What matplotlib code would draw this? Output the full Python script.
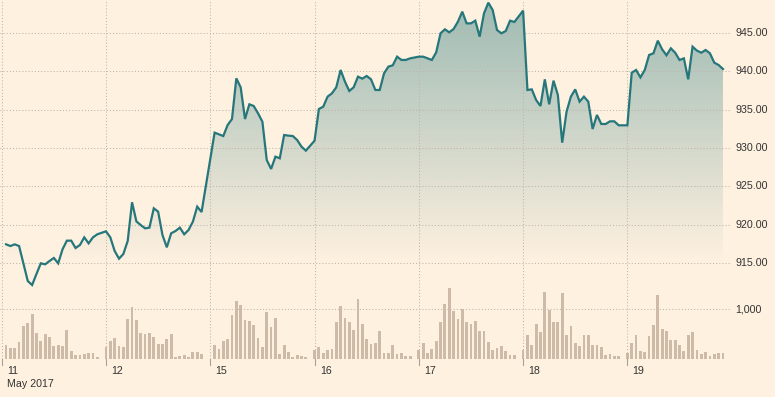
import numpy as np
import matplotlib
matplotlib.use("Agg")
import matplotlib.pyplot as plt
import matplotlib.transforms as mtransforms

plt.rcParams['font.family'] = ['Liberation Sans', 'DejaVu Sans']

# --- data: one list per trading day (15-min bars) ---
day_labels = ['11', '12', '15', '16', '17', '18', '19']
first_slot = [1, 0, 1, 0, 0, 0, 0]   # first bar of the session inside the day slot

prices = [
    [917.41, 917.19, 917.41, 917.19, 914.93, 912.62, 912.10, 913.54, 914.93, 914.80, 915.23,
     915.63, 914.93, 916.76, 917.89, 917.89, 916.93, 917.32, 918.32, 917.54, 918.32, 918.72],
    [919.11, 918.32, 916.54, 915.54, 916.15, 917.85, 922.90, 920.40, 919.93, 919.50, 919.59,
     922.11, 921.68, 918.63, 917.02, 918.85, 919.15, 919.59, 918.72, 919.28, 920.37, 922.33, 921.63],
    [931.99, 931.77, 931.55, 932.99, 933.77, 939.08, 937.91, 933.77, 935.69, 935.47, 934.51,
     933.42, 928.42, 927.25, 928.86, 928.64, 931.68, 931.60, 931.55, 931.03, 930.16, 929.64],
    [930.94, 935.08, 935.38, 936.69, 937.12, 937.91, 940.17, 938.65, 937.43, 937.91, 939.30,
     939.04, 939.39, 938.95, 937.56, 937.56, 939.74, 940.61, 940.78, 941.91, 941.48, 941.48, 941.69],
    [941.91, 941.91, 941.69, 941.48, 942.48, 944.96, 945.48, 945.09, 945.52, 946.48, 947.79,
     946.26, 946.26, 946.61, 944.52, 947.57, 948.96, 948.00, 945.39, 944.96, 945.26, 946.61, 946.44],
    [947.92, 937.56, 937.64, 936.25, 935.47, 938.95, 935.69, 938.78, 936.91, 930.68, 934.73,
     936.69, 937.64, 936.04, 936.69, 936.04, 932.47, 934.30, 933.12, 933.12, 933.47, 933.47, 932.95],
    [932.95, 939.82, 940.17, 939.21, 940.17, 942.13, 942.35, 944.00, 942.87, 942.09, 943.00,
     942.43, 941.48, 941.69, 938.95, 943.22, 942.70, 942.43, 942.78, 942.35, 941.13, 940.82, 940.30],
]

volumes = [
    [280, 220, 220, 340, 660, 720, 900, 520, 360, 500, 440, 260, 280, 260, 580, 160, 80, 80,
     100, 120, 120, 40],
    [240, 360, 420, 260, 240, 800, 1040, 780, 520, 500, 520, 440, 300, 300, 410, 500, 40, 60,
     80, 40, 140, 140, 100],
    [280, 200, 360, 400, 880, 1160, 1080, 780, 760, 680, 420, 240, 940, 640, 820, 100, 280, 140,
     40, 80, 60, 40],
    [180, 240, 120, 180, 200, 740, 1060, 820, 740, 580, 1200, 700, 400, 300, 320, 560, 120, 120,
     280, 100, 120, 60, 60],
    [180, 330, 120, 200, 360, 740, 1100, 1420, 960, 800, 1000, 740, 700, 760, 560, 560, 340, 180,
     220, 260, 160, 80, 80],
    [180, 480, 280, 700, 540, 1340, 980, 740, 740, 1320, 480, 660, 320, 260, 480, 480, 280, 280,
     240, 80, 100, 60, 60],
    [120, 320, 480, 160, 140, 460, 680, 1280, 600, 560, 380, 380, 280, 160, 480, 540, 180, 100,
     140, 60, 100, 120, 120],
]

price_ticks = [915, 920, 925, 930, 935, 940, 945]
vol_ticks = [1000]

SLOTS = 24
BG = '#fff1e0'
LINE = '#25777b'
BAR = '#cdbaa7'
GRID = '#bfb4a8'
TXT = '#333333'

# build x positions
x, p, v = [], [], []
for d, (pl, vl) in enumerate(zip(prices, volumes)):
    for k in range(len(pl)):
        x.append(d * SLOTS + first_slot[d] + k)
        p.append(pl[k])
        v.append(vl[k])
x = np.array(x, float)
p = np.array(p)
v = np.array(v)

W, H = 775, 397
fig = plt.figure(figsize=(W / 100, H / 100), dpi=100, facecolor=BG)
plot_right = 730
plot_bottom = 359
ax = fig.add_axes([0, (H - plot_bottom) / H, plot_right / W, plot_bottom / H])
ax.set_facecolor(BG)
axv = ax.twinx()

px_per_slot = 4.345
x0_px = 1.7
ax.set_xlim(-x0_px / px_per_slot, (plot_right - x0_px) / px_per_slot)
ppx = 7.66  # pixels per price unit
ax.set_ylim(945 - (plot_bottom - 33) / ppx, 945 + 33 / ppx)
axv.set_ylim(0, plot_bottom * 20)

for a in (ax, axv):
    for s in a.spines.values():
        s.set_visible(False)
    a.set_yticks([])
    a.tick_params(left=False, right=False, labelleft=False, labelright=False)
ax.set_xticks([])

# gradient fill under the price line
fill = ax.fill_between(x, p, 900, color='none', lw=0)
ylo, yhi = ax.get_ylim()
n = 300
alpha = np.clip(np.linspace(0.45, -0.05, n), 0, 1) ** 1.0
rgba = np.zeros((n, 1, 4))
rgba[..., 0] = 0x25 / 255
rgba[..., 1] = 0x77 / 255
rgba[..., 2] = 0x7b / 255
rgba[:, 0, 3] = alpha
# fade ends around pixel y ~ 295
fade_bottom = 945 - (295 - 33) / ppx
img = ax.imshow(rgba, aspect='auto', extent=[x.min(), x.max(), fade_bottom, yhi],
                origin='upper', zorder=1, interpolation='bilinear')
img.set_clip_path(fill.get_paths()[0], transform=ax.transData)
ax.set_xlim(-x0_px / px_per_slot, (plot_right - x0_px) / px_per_slot)
ax.set_ylim(ylo, yhi)

# grid
for t in price_ticks:
    ax.axhline(t, color=GRID, lw=0.75, ls=(0, (1, 2)), zorder=2)
for t in vol_ticks:
    axv.axhline(t, color=GRID, lw=0.75, ls=(0, (1, 2)), zorder=2)
for d in range(len(day_labels)):
    ax.axvline(d * SLOTS, color=GRID, lw=0.75, ls=(0, (1, 2)), zorder=2)

# volume bars and price line
axv.bar(x, v, width=0.64, color=BAR, zorder=3)
ax.plot(x, p, color=LINE, lw=1.6, zorder=5, solid_joinstyle='miter')
ax.set_zorder(2)
axv.set_zorder(1)
ax.patch.set_visible(False)
axv.patch.set_visible(True)
axv.patch.set_facecolor(BG)

# axis labels on the right
ytr = ax.get_yaxis_transform()
for t in price_ticks:
    ax.text(735 / plot_right, t, f'{t:.2f}', transform=ytr, ha='left', va='center',
            fontsize=7.7, color=TXT, clip_on=False)
vtr = axv.get_yaxis_transform()
for t in vol_ticks:
    axv.text(735 / plot_right, t, f'{t:,}', transform=vtr, ha='left', va='center',
             fontsize=7.7, color=TXT, clip_on=False)

# day ticks and labels below
xtr = mtransforms.blended_transform_factory(ax.transData, fig.transFigure)
for d, lab in enumerate(day_labels):
    xd = d * SLOTS
    ax.plot([xd, xd], [(H - 359) / H, (H - 365) / H], color='#a9a097', lw=0.8,
            transform=xtr, clip_on=False)
    ax.text(xd + 1.2, (H - 371) / H, lab, transform=xtr, ha='left', va='center',
            fontsize=7.7, color=TXT)
ax.text(1.2, (H - 384) / H, 'May 2017', transform=xtr, ha='left', va='center',
        fontsize=7.7, color=TXT)

fig.savefig('out.png', dpi=100, facecolor=BG)
